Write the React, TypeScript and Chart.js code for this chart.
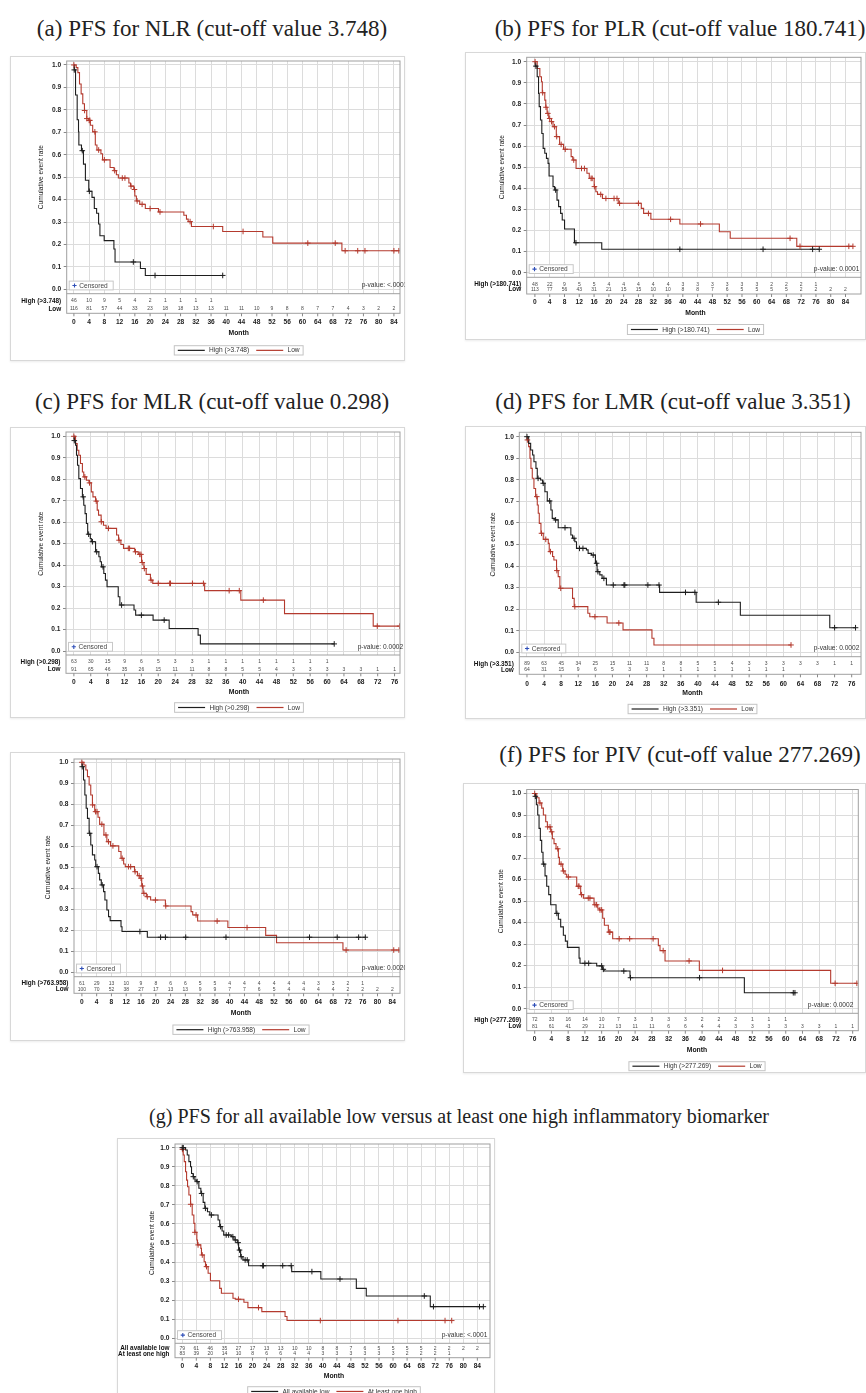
import { useEffect, useRef } from "react";
import { Chart, registerables } from "chart.js";

Chart.register(...registerables);

type Step = [number, number];

// ---------- tick labels ----------
const months84 = [0, 4, 8, 12, 16, 20, 24, 28, 32, 36, 40, 44, 48, 52, 56, 60, 64, 68, 72, 76, 80, 84];
const months76 = [0, 4, 8, 12, 16, 20, 24, 28, 32, 36, 40, 44, 48, 52, 56, 60, 64, 68, 72, 76];
const rateTicks = [0, 0.1, 0.2, 0.3, 0.4, 0.5, 0.6, 0.7, 0.8, 0.9, 1.0];

// ---------- (a) NLR ----------
const nlrHigh: Step[] = [[0,1],[0.1,0.978],[0.43,0.866],[0.86,0.756],[1.21,0.702],[1.3,0.643],[1.99,0.618],[2.51,0.558],[3.02,0.486],[3.9,0.437],[4.75,0.41],[5.36,0.36],[5.96,0.339],[6.48,0.291],[6.83,0.239],[7.95,0.217],[10.5,0.18],[10.8,0.122],[17.46,0.093],[18.75,0.062],[39.06,0.062]];
const nlrHighCens = [0.1, 2.2, 4.06, 15.6, 21.3, 39.06];
const nlrLow: Step[] = [[0,1],[0.6,0.988],[1.04,0.966],[1.47,0.915],[1.9,0.871],[2.33,0.827],[2.77,0.797],[3.37,0.761],[3.89,0.753],[4.32,0.731],[4.93,0.702],[5.62,0.643],[6.05,0.621],[7.09,0.604],[7.52,0.577],[9.5,0.543],[10.54,0.529],[11.15,0.511],[11.67,0.496],[14.43,0.474],[14.86,0.46],[15.73,0.445],[15.99,0.416],[16.4,0.394],[17.28,0.379],[18.75,0.36],[22.2,0.345],[28.86,0.33],[29.55,0.313],[30.0,0.302],[30.85,0.28],[39.06,0.258],[49.6,0.233],[52.2,0.206],[70.35,0.172],[85.3,0.172]];
const nlrLowCens = [0, 2.8, 3.4, 4.0, 4.2, 5.5, 6.5, 8.0, 10.7, 12.7, 13.4, 15.0, 15.9, 16.6, 17.9, 20.0, 22.6, 30.5, 36.6, 44.4, 61.4, 68.6, 71.2, 74.5, 76.4, 84.0, 85.3];
const nlrHighRisk = [46, 10, 9, 5, 4, 2, 1, 1, 1, 1];
const nlrLowRisk = [116, 81, 57, 44, 33, 23, 18, 18, 13, 13, 11, 11, 10, 9, 8, 8, 7, 7, 4, 3, 2, 2];

// ---------- (b) PLR ----------
const plrHigh: Step[] = [[0,1],[0.09,0.979],[0.62,0.929],[0.98,0.85],[1.16,0.787],[1.51,0.724],[1.87,0.66],[2.23,0.589],[2.67,0.566],[3.12,0.542],[3.56,0.518],[3.83,0.458],[4.9,0.408],[5.34,0.392],[5.97,0.344],[6.41,0.313],[6.95,0.281],[7.39,0.25],[8.02,0.207],[10.69,0.142],[18.08,0.111],[76.9,0.111]];
const plrHighCens = [0.27, 5.6, 11.1, 39.2, 61.7, 75.1, 76.9];
const plrLow: Step[] = [[0,1],[0.62,0.968],[1.34,0.929],[1.78,0.905],[2.0,0.853],[2.67,0.818],[2.94,0.784],[3.3,0.755],[3.74,0.731],[4.45,0.716],[4.9,0.692],[5.79,0.645],[6.68,0.608],[7.75,0.585],[9.8,0.55],[10.24,0.534],[11.13,0.494],[14.07,0.471],[14.7,0.447],[16.03,0.408],[16.48,0.384],[16.93,0.371],[18.26,0.352],[22.54,0.329],[28.77,0.305],[29.4,0.281],[31.36,0.253],[39.2,0.231],[49.88,0.194],[52.82,0.163],[70.82,0.125],[86.0,0.125]];
const plrLowCens = [0.05, 2.1, 3.0, 3.5, 4.0, 4.5, 5.3, 5.9, 7.1, 8.2, 10.5, 12.6, 13.4, 15.2, 15.5, 16.1, 17.8, 19.2, 21.4, 22.2, 22.9, 28.0, 30.7, 36.7, 44.8, 69.0, 71.7, 84.9, 86.0];
const plrHighRisk = [48, 22, 9, 5, 5, 4, 4, 4, 4, 4, 3, 3, 3, 3, 3, 3, 2, 2, 2, 1];
const plrLowRisk = [113, 77, 56, 43, 31, 21, 15, 15, 10, 10, 8, 8, 7, 6, 5, 5, 5, 5, 2, 2, 2, 2];

// ---------- (c) MLR ----------
const mlrHigh: Step[] = [[0,1],[0.08,0.98],[0.39,0.958],[0.62,0.912],[0.86,0.865],[1.17,0.803],[1.56,0.757],[2.02,0.718],[2.34,0.679],[2.65,0.64],[2.96,0.594],[3.27,0.544],[3.89,0.524],[4.13,0.509],[5.14,0.462],[5.92,0.439],[6.23,0.416],[6.54,0.392],[7.09,0.361],[7.48,0.33],[7.86,0.299],[10.51,0.253],[10.9,0.214],[14.25,0.191],[14.64,0.167],[18.77,0.144],[22.58,0.105],[29.44,0.074],[29.98,0.033],[61.7,0.033]];
const mlrHighCens = [0.1, 2.2, 3.5, 4.4, 5.4, 6.9, 11.3, 16.0, 21.4, 61.7];
const mlrLow: Step[] = [[0,1],[0.39,0.966],[0.78,0.935],[1.17,0.912],[1.56,0.873],[2.02,0.834],[2.34,0.811],[2.96,0.795],[3.58,0.783],[4.13,0.741],[4.52,0.718],[5.14,0.698],[5.53,0.656],[5.84,0.633],[6.46,0.602],[7.01,0.586],[7.63,0.571],[10.12,0.54],[10.59,0.516],[11.14,0.496],[11.76,0.478],[14.41,0.462],[15.26,0.45],[16.04,0.412],[16.59,0.384],[17.13,0.357],[18.14,0.33],[18.69,0.315],[30.99,0.281],[39.56,0.237],[49.92,0.174],[70.94,0.116],[77.2,0.116]];
const mlrLowCens = [0, 2.6, 3.7, 5.3, 6.5, 8.2, 10.7, 12.9, 13.2, 14.6, 15.6, 15.9, 16.2, 16.7, 18.3, 20.0, 22.7, 22.9, 28.1, 30.7, 36.8, 39.2, 44.9, 71.9, 77.2];
const mlrHighRisk = [63, 30, 15, 9, 6, 5, 3, 3, 1, 1, 1, 1, 1, 1, 1, 1];
const mlrLowRisk = [91, 65, 46, 35, 26, 15, 11, 11, 8, 8, 5, 5, 4, 3, 3, 3, 3, 3, 1, 1];

// ---------- (d) LMR ----------
const lmrHigh: Step[] = [[0,1],[0.39,0.969],[0.86,0.938],[1.32,0.915],[1.63,0.884],[2.1,0.853],[2.41,0.807],[3.19,0.799],[3.66,0.784],[4.2,0.745],[4.75,0.702],[5.6,0.66],[5.91,0.621],[6.53,0.614],[7.31,0.578],[10.27,0.544],[10.66,0.529],[11.2,0.513],[11.59,0.482],[13.92,0.475],[14.31,0.459],[15.09,0.451],[16.02,0.413],[16.41,0.374],[17.04,0.359],[17.58,0.343],[18.59,0.312],[31.04,0.278],[39.6,0.232],[49.94,0.172],[70.87,0.114],[76.9,0.114]];
const lmrHighCens = [0, 2.6, 3.8, 5.3, 6.7, 8.9, 11.0, 12.3, 13.1, 15.5, 16.3, 16.6, 18.0, 20.2, 22.7, 22.9, 28.3, 30.9, 37.1, 39.3, 44.8, 72.0, 76.9];
const lmrLow: Step[] = [[0,1],[0.05,0.985],[0.39,0.954],[0.7,0.9],[0.93,0.853],[1.24,0.807],[1.63,0.76],[2.02,0.722],[2.41,0.683],[2.64,0.645],[2.88,0.598],[3.27,0.552],[3.81,0.524],[4.98,0.505],[5.21,0.467],[5.99,0.444],[6.3,0.428],[6.92,0.379],[7.31,0.351],[7.7,0.297],[10.66,0.25],[11.05,0.212],[14.24,0.181],[14.7,0.165],[18.75,0.136],[22.48,0.104],[29.25,0.065],[29.72,0.034],[61.8,0.034]];
const lmrLowCens = [0.1, 2.3, 3.4, 4.4, 5.5, 7.0, 7.9, 11.2, 15.9, 21.5, 61.8];
const lmrHighRisk = [89, 63, 45, 34, 25, 15, 11, 11, 8, 8, 5, 5, 4, 3, 3, 3, 3, 3, 1, 1];
const lmrLowRisk = [64, 31, 15, 9, 6, 5, 3, 3, 1, 1, 1, 1, 1, 1, 1, 1];

// ---------- (e) cut-off 763.958 ----------
const siiHigh: Step[] = [[0,1],[0.05,0.979],[0.44,0.916],[0.8,0.844],[1.16,0.781],[1.51,0.733],[1.96,0.662],[2.4,0.606],[2.85,0.559],[3.47,0.535],[3.74,0.503],[4.45,0.471],[4.8,0.44],[5.25,0.416],[5.87,0.384],[6.23,0.344],[6.76,0.297],[7.21,0.265],[7.65,0.246],[10.59,0.217],[10.86,0.194],[17.71,0.167],[76.7,0.167]];
const siiHighCens = [0.1, 2.1, 4.1, 5.5, 15.7, 21.3, 22.6, 28.1, 39.0, 61.6, 69.1, 74.9, 76.7];
const siiLow: Step[] = [[0,1],[0.53,0.987],[1.07,0.963],[1.51,0.932],[1.96,0.892],[2.4,0.844],[2.85,0.797],[3.47,0.765],[4.36,0.738],[4.8,0.705],[5.96,0.654],[6.76,0.622],[7.74,0.602],[9.97,0.575],[10.59,0.543],[11.3,0.516],[11.74,0.503],[14.24,0.479],[15.04,0.46],[15.75,0.448],[16.19,0.411],[16.55,0.376],[17.44,0.36],[18.6,0.344],[22.6,0.316],[29.54,0.289],[29.99,0.273],[31.32,0.244],[39.51,0.213],[49.74,0.176],[52.68,0.141],[70.65,0.106],[85.8,0.106]];
const siiLowCens = [0, 2.9, 3.7, 4.1, 5.4, 6.5, 7.2, 8.4, 10.9, 12.6, 13.2, 14.4, 15.5, 16.0, 16.4, 16.8, 17.7, 19.9, 22.7, 30.9, 36.6, 44.7, 71.5, 84.4, 85.8];
const siiHighRisk = [61, 29, 13, 10, 9, 8, 6, 6, 5, 5, 4, 4, 4, 4, 4, 4, 3, 3, 2, 1];
const siiLowRisk = [100, 70, 52, 38, 27, 17, 13, 13, 9, 9, 7, 7, 6, 5, 4, 4, 4, 4, 2, 2, 2, 2];

// ---------- (f) PIV ----------
const pivHigh: Step[] = [[0,1],[0.08,0.987],[0.4,0.948],[0.72,0.9],[1.04,0.838],[1.35,0.782],[1.67,0.727],[1.99,0.672],[2.47,0.617],[2.87,0.569],[3.35,0.53],[3.82,0.483],[5.1,0.443],[5.66,0.416],[6.21,0.38],[6.85,0.341],[7.33,0.314],[7.81,0.285],[10.6,0.235],[10.83,0.211],[14.82,0.199],[16.17,0.183],[16.57,0.175],[22.78,0.144],[50.11,0.074],[62.2,0.074]];
const pivHighCens = [0.16, 2.15, 5.3, 12.0, 12.9, 16.0, 16.4, 21.3, 22.9, 39.4, 61.8, 62.2];
const pivLow: Step[] = [[0,1],[0.48,0.98],[1.04,0.956],[1.67,0.932],[2.07,0.9],[2.63,0.869],[3.03,0.845],[3.82,0.822],[4.22,0.79],[4.62,0.767],[5.1,0.743],[5.66,0.703],[5.9,0.672],[6.69,0.64],[7.25,0.625],[7.65,0.612],[10.04,0.569],[10.99,0.53],[11.63,0.514],[14.18,0.483],[15.06,0.467],[15.45,0.459],[16.25,0.42],[16.65,0.388],[17.6,0.356],[18.64,0.325],[29.55,0.293],[29.95,0.27],[31.15,0.222],[39.35,0.178],[70.74,0.118],[77.0,0.118]];
const pivLowCens = [0, 1.27, 3.1, 3.66, 4.06, 5.5, 6.3, 6.85, 8.05, 10.4, 10.6, 11.2, 12.8, 13.2, 14.4, 14.8, 15.6, 16.0, 17.8, 18.0, 20.2, 22.7, 28.3, 30.7, 36.9, 44.9, 71.8, 77.0];
const pivHighRisk = [72, 33, 16, 14, 10, 7, 3, 3, 3, 3, 2, 2, 2, 1, 1, 1];
const pivLowRisk = [81, 61, 41, 29, 21, 13, 11, 11, 6, 6, 4, 4, 3, 3, 3, 3, 3, 3, 1, 1];

// ---------- (g) all low vs at least one high ----------
const allLow: Step[] = [[0,1],[0.94,0.988],[1.42,0.962],[1.89,0.927],[2.36,0.9],[2.64,0.865],[3.11,0.848],[3.59,0.83],[4.06,0.822],[4.72,0.787],[5.29,0.76],[5.95,0.713],[6.42,0.682],[7.17,0.664],[7.83,0.647],[10.19,0.621],[10.66,0.586],[11.33,0.563],[11.8,0.542],[13.97,0.533],[14.72,0.516],[15.67,0.502],[16.04,0.463],[16.61,0.428],[17.27,0.411],[18.88,0.381],[31.15,0.35],[39.45,0.311],[49.55,0.262],[52.38,0.222],[70.6,0.166],[85.7,0.166]];
const allLowCens = [0, 0.3, 3.15, 4.25, 5.5, 6.6, 8.3, 10.9, 12.5, 13.2, 14.4, 15.1, 15.9, 16.3, 16.8, 17.9, 18.5, 22.9, 23.1, 28.6, 31.0, 36.9, 44.9, 68.9, 71.5, 84.6, 85.7];
const oneHigh: Step[] = [[0,1],[0.02,0.991],[0.28,0.962],[0.57,0.927],[0.94,0.874],[1.23,0.83],[1.51,0.795],[1.89,0.752],[2.36,0.703],[2.83,0.647],[3.3,0.603],[3.59,0.556],[4.15,0.516],[4.34,0.49],[5.29,0.472],[5.47,0.437],[6.23,0.402],[6.61,0.376],[7.36,0.341],[8.02,0.302],[10.66,0.262],[11.14,0.236],[14.44,0.21],[15.1,0.205],[17.55,0.189],[18.69,0.161],[22.65,0.14],[29.26,0.114],[29.82,0.093],[76.7,0.093]];
const oneHighCens = [0.05, 2.4, 3.6, 4.5, 5.7, 6.9, 16.0, 21.7, 39.3, 61.4, 74.8, 76.7];
const allLowRisk = [79, 61, 46, 35, 27, 17, 13, 13, 10, 10, 8, 8, 7, 6, 5, 5, 5, 5, 2, 2, 2, 2];
const oneHighRisk = [83, 39, 20, 14, 10, 8, 6, 6, 4, 4, 3, 3, 3, 3, 3, 3, 2, 2, 2, 1];

// ---------- styles ----------
const FAM = "'Liberation Sans', Arial, Helvetica, sans-serif";
const SERIF = "'Liberation Serif', 'Times New Roman', serif";
const BLACK = "#1e1e1e";
const RED = "#b43a2e";
const GRID = "#dcdcdc";
const FRAME = "#a0a0a0";

interface Curve { steps: Step[]; censor: number[]; color: string; }
interface PanelSpec {
  box: [number, number, number, number];
  plot: [number, number, number, number];
  y1px: number; y0px: number; x0px: number; ppm: number;
  xTicks: number[];
  rowLabels: string[]; risks: number[][]; rowY: number[];
  tableBottom: number; labelY: number; monthY: number;
  legendCx: number; legendTop: number; legendH: number; legendLabels: string[];
  yTitleX: number;
  pText: string; pX: number; pAlign: "left" | "right";
  curves: Curve[];
}

const panels: PanelSpec[] = [
  {
    box: [10, 56, 405, 361], plot: [66.7, 58.3, 404.5, 293.7], y1px: 62.3, y0px: 289.3, x0px: 74, ppm: 3.861,
    xTicks: months84, rowLabels: ["High (>3.748)", "Low"], risks: [nlrHighRisk, nlrLowRisk], rowY: [301, 309],
    tableBottom: 313.3, labelY: 322.3, monthY: 333.3, legendCx: 238.7, legendTop: 345.7, legendH: 9.3,
    legendLabels: ["High (>3.748)", "Low"], yTitleX: 40.7, pText: "p-value: <.0001", pX: 361.7, pAlign: "left",
    curves: [{ steps: nlrHigh, censor: nlrHighCens, color: BLACK }, { steps: nlrLow, censor: nlrLowCens, color: RED }],
  },
  {
    box: [465, 52, 866, 340], plot: [526.7, 57.3, 865, 277.3], y1px: 61.7, y0px: 272.7, x0px: 535, ppm: 3.742,
    xTicks: months84, rowLabels: ["High (>180.741)", "Low"], risks: [plrHighRisk, plrLowRisk], rowY: [284.3, 289.6],
    tableBottom: 294, labelY: 302.3, monthY: 313.3, legendCx: 695.5, legendTop: 324.5, legendH: 10,
    legendLabels: ["High (>180.741)", "Low"], yTitleX: 501.7, pText: "p-value: 0.0001", pX: 859.3, pAlign: "right",
    curves: [{ steps: plrHigh, censor: plrHighCens, color: BLACK }, { steps: plrLow, censor: plrLowCens, color: RED }],
  },
  {
    box: [10, 427, 405, 718], plot: [66, 431.7, 404.8, 655], y1px: 436, y0px: 651, x0px: 74, ppm: 4.28,
    xTicks: months76, rowLabels: ["High (>0.298)", "Low"], risks: [mlrHighRisk, mlrLowRisk], rowY: [662, 669.3],
    tableBottom: 673.3, labelY: 682.3, monthY: 692.3, legendCx: 239, legendTop: 702.7, legendH: 9.6,
    legendLabels: ["High (>0.298)", "Low"], yTitleX: 40.7, pText: "p-value: 0.0002", pX: 357.7, pAlign: "left",
    curves: [{ steps: mlrHigh, censor: mlrHighCens, color: BLACK }, { steps: mlrLow, censor: mlrLowCens, color: RED }],
  },
  {
    box: [465, 426, 866, 719], plot: [519.3, 432.3, 862, 656.7], y1px: 436.7, y0px: 652.3, x0px: 527, ppm: 4.285,
    xTicks: months76, rowLabels: ["High (>3.351)", "Low"], risks: [lmrHighRisk, lmrLowRisk], rowY: [664, 670],
    tableBottom: 674.3, labelY: 684, monthY: 692.7, legendCx: 692.5, legendTop: 704.3, legendH: 9.4,
    legendLabels: ["High (>3.351)", "Low"], yTitleX: 493.3, pText: "p-value: 0.0002", pX: 859.3, pAlign: "right",
    curves: [{ steps: lmrHigh, censor: lmrHighCens, color: BLACK }, { steps: lmrLow, censor: lmrLowCens, color: RED }],
  },
  {
    box: [10, 752, 405, 1041], plot: [74, 759, 404.5, 976.7], y1px: 762.3, y0px: 972.3, x0px: 82, ppm: 3.746,
    xTicks: months84, rowLabels: ["High (>763.958)", "Low"], risks: [siiHighRisk, siiLowRisk], rowY: [983.3, 989.7],
    tableBottom: 993.3, labelY: 1002, monthY: 1013.3, legendCx: 241, legendTop: 1025, legendH: 9.4,
    legendLabels: ["High (>763.958)", "Low"], yTitleX: 48.3, pText: "p-value: 0.0020", pX: 361.7, pAlign: "left",
    curves: [{ steps: siiHigh, censor: siiHighCens, color: BLACK }, { steps: siiLow, censor: siiLowCens, color: RED }],
  },
  {
    box: [463, 783, 866, 1073], plot: [526.7, 789.5, 858.3, 1013.3], y1px: 793.5, y0px: 1008.7, x0px: 534.7, ppm: 4.184,
    xTicks: months76, rowLabels: ["High (>277.269)", "Low"], risks: [pivHighRisk, pivLowRisk], rowY: [1020, 1026.7],
    tableBottom: 1030.7, labelY: 1039.3, monthY: 1050, legendCx: 697, legendTop: 1061.7, legendH: 9,
    legendLabels: ["High (>277.269)", "Low"], yTitleX: 500.7, pText: "p-value: 0.0002", pX: 853.3, pAlign: "right",
    curves: [{ steps: pivHigh, censor: pivHighCens, color: BLACK }, { steps: pivLow, censor: pivLowCens, color: RED }],
  },
  {
    box: [117, 1138, 495, 1400], plot: [175, 1144, 491.7, 1343.3], y1px: 1147.7, y0px: 1338.3, x0px: 182.3, ppm: 3.532,
    xTicks: months84, rowLabels: ["All available low", "At least one high"], risks: [allLowRisk, oneHighRisk], rowY: [1348.3, 1354],
    tableBottom: 1357.7, labelY: 1365.7, monthY: 1376.3, legendCx: 334, legendTop: 1386.7, legendH: 9.5,
    legendLabels: ["All available low", "At least one high"], yTitleX: 151.7, pText: "p-value: <.0001", pX: 487.3, pAlign: "right",
    curves: [{ steps: allLow, censor: allLowCens, color: BLACK }, { steps: oneHigh, censor: oneHighCens, color: RED }],
  },
];

const titles = [
  { text: "(a) PFS for NLR (cut-off value 3.748)", cx: 212, cy: 29, size: 23 },
  { text: "(b) PFS for PLR (cut-off value 180.741)", cx: 680, cy: 29, size: 23 },
  { text: "(c) PFS for MLR (cut-off value 0.298)", cx: 212, cy: 402, size: 23 },
  { text: "(d) PFS for LMR (cut-off value 3.351)", cx: 673, cy: 402, size: 23 },
  { text: "(f) PFS for PIV (cut-off value 277.269)", cx: 680, cy: 755, size: 23 },
  { text: "(g) PFS for all available low versus at least one high inflammatory biomarker", cx: 459, cy: 1116, size: 20 },
];

function survAt(steps: Step[], t: number): number {
  let v = steps[0][1];
  for (const [x, y] of steps) {
    if (x <= t + 1e-9) v = y;
    else break;
  }
  return v;
}

function KMPanel({ spec }: { spec: PanelSpec }) {
  const ref = useRef<HTMLCanvasElement>(null);
  const L = Math.round(spec.box[0]);
  const T = Math.round(spec.box[1]);
  const W = Math.round(spec.box[2]) - L;
  const H = Math.round(spec.box[3]) - T;

  useEffect(() => {
    if (!ref.current) return;
    const [pl, pt, pr, pb] = spec.plot;
    const unit = spec.y0px - spec.y1px;
    const yMax = 1 + (spec.y1px - pt) / unit;
    const yMin = -(pb - spec.y0px) / unit;
    const xMin = (pl - spec.x0px) / spec.ppm;
    const xMax = (pr - spec.x0px) / spec.ppm;
    const tickFont = 6.6;

    const datasets: any[] = [];
    spec.curves.forEach((c) => {
      datasets.push({
        data: c.steps.map(([x, y]) => ({ x, y })),
        borderColor: c.color,
        borderWidth: 1.1,
        pointRadius: 0,
        stepped: true,
        fill: false,
        order: 2,
      });
      datasets.push({
        data: c.censor.map((t) => ({ x: t, y: survAt(c.steps, t) })),
        showLine: false,
        borderColor: c.color,
        backgroundColor: c.color,
        pointStyle: "cross",
        pointRadius: 2.8,
        borderWidth: 1,
        order: 1,
      });
    });

    const zeroPad = (s: any) => {
      s.paddingLeft = 0; s.paddingRight = 0; s.paddingTop = 0; s.paddingBottom = 0;
    };

    const decor = {
      id: "kmDecor",
      afterDraw(chart: any) {
        const ctx = chart.ctx as CanvasRenderingContext2D;
        const ca = chart.chartArea;
        const xs = chart.scales.x;
        const ys = chart.scales.y;
        const tb = spec.tableBottom - T;
        ctx.save();
        ctx.strokeStyle = FRAME;
        ctx.lineWidth = 1;
        ctx.strokeRect(ca.left, ca.top, ca.right - ca.left, tb - ca.top);
        ctx.beginPath();
        ctx.moveTo(ca.left, ca.bottom);
        ctx.lineTo(ca.right, ca.bottom);
        ctx.stroke();
        ctx.strokeStyle = "#888";
        ctx.beginPath();
        spec.xTicks.forEach((v) => {
          const x = xs.getPixelForValue(v);
          ctx.moveTo(x, tb);
          ctx.lineTo(x, tb + 3);
        });
        ctx.stroke();
        ctx.font = `5px ${FAM}`;
        ctx.fillStyle = "#4a4a4a";
        ctx.textAlign = "center";
        ctx.textBaseline = "middle";
        spec.risks.forEach((row, r) => {
          row.forEach((n, i) => {
            ctx.fillText(String(n), xs.getPixelForValue(spec.xTicks[i]), spec.rowY[r] - T);
          });
        });
        ctx.font = `bold 6.4px ${FAM}`;
        ctx.fillStyle = "#111";
        ctx.textAlign = "right";
        spec.rowLabels.forEach((lab, r) => ctx.fillText(lab, ca.left - 5.5, spec.rowY[r] - T));
        const bx = ca.left + 2.5, by = ca.bottom - 12.6, bw = 44, bh = 8.8;
        ctx.fillStyle = "#fff";
        ctx.fillRect(bx, by, bw, bh);
        ctx.strokeStyle = "#c8c8c8";
        ctx.strokeRect(bx, by, bw, bh);
        ctx.strokeStyle = "#2f4fb8";
        ctx.lineWidth = 1.1;
        ctx.beginPath();
        ctx.moveTo(bx + 3.2, by + bh / 2); ctx.lineTo(bx + 7.4, by + bh / 2);
        ctx.moveTo(bx + 5.3, by + bh / 2 - 2.1); ctx.lineTo(bx + 5.3, by + bh / 2 + 2.1);
        ctx.stroke();
        ctx.lineWidth = 1;
        ctx.font = `6.6px ${FAM}`;
        ctx.fillStyle = "#444";
        ctx.textAlign = "left";
        ctx.fillText("Censored", bx + 10, by + bh / 2 + 0.3);
        ctx.textAlign = spec.pAlign;
        ctx.fillStyle = "#333";
        ctx.fillText(spec.pText, spec.pX - L, ca.bottom - 8.2);
        ctx.save();
        ctx.translate(spec.yTitleX - L, (ys.getPixelForValue(1) + ys.getPixelForValue(0)) / 2);
        ctx.rotate(-Math.PI / 2);
        ctx.textAlign = "center";
        ctx.fillStyle = "#222";
        ctx.font = `6.6px ${FAM}`;
        ctx.fillText("Cumulative event rate", 0, 0);
        ctx.restore();
        ctx.font = `bold 6.8px ${FAM}`;
        ctx.fillStyle = "#111";
        ctx.textAlign = "center";
        ctx.fillText("Month", spec.legendCx - L, spec.monthY - T);
        ctx.font = `6.6px ${FAM}`;
        const w1 = ctx.measureText(spec.legendLabels[0]).width;
        const w2 = ctx.measureText(spec.legendLabels[1]).width;
        const pad = 3.5, line = 27, gap = 4.3, gap2 = 7;
        const total = pad + line + gap + w1 + gap2 + line + gap + w2 + pad;
        let lx = spec.legendCx - L - total / 2;
        const ly = spec.legendTop - T;
        ctx.fillStyle = "#fff";
        ctx.fillRect(lx, ly, total, spec.legendH);
        ctx.strokeStyle = "#c4c4c4";
        ctx.strokeRect(lx, ly, total, spec.legendH);
        const my = ly + spec.legendH / 2;
        const drawItem = (color: string, label: string, w: number) => {
          ctx.strokeStyle = color;
          ctx.lineWidth = 1.2;
          ctx.beginPath();
          ctx.moveTo(lx, my);
          ctx.lineTo(lx + line, my);
          ctx.stroke();
          ctx.fillStyle = "#333";
          ctx.textAlign = "left";
          ctx.fillText(label, lx + line + gap, my + 0.3);
          lx += line + gap + w;
        };
        lx += pad;
        drawItem(spec.curves[0].color, spec.legendLabels[0], w1);
        lx += gap2;
        drawItem(spec.curves[1].color, spec.legendLabels[1], w2);
        ctx.restore();
      },
    };

    const chart = new Chart(ref.current, {
      type: "line",
      data: { datasets },
      options: {
        animation: false,
        responsive: false,
        devicePixelRatio: 1,
        events: [],
        layout: { padding: { left: 0, top: pt - T, right: L + W - pr, bottom: 0 } },
        plugins: { legend: { display: false }, tooltip: { enabled: false }, title: { display: false } },
        scales: {
          x: {
            type: "linear",
            min: xMin,
            max: xMax,
            afterBuildTicks: (s: any) => { s.ticks = spec.xTicks.map((v) => ({ value: v })); },
            afterFit: (s: any) => { s.height = T + H - pb; zeroPad(s); },
            ticks: {
              autoSkip: false,
              maxRotation: 0,
              padding: spec.labelY - pb - (tickFont * 1.2) / 2,
              font: { family: FAM, size: tickFont, weight: "bold" },
              color: "#222",
              callback: (v: any) => String(v),
            },
            grid: { color: GRID, lineWidth: 1, drawTicks: false },
            border: { display: false },
          },
          y: {
            type: "linear",
            min: yMin,
            max: yMax,
            afterBuildTicks: (s: any) => { s.ticks = rateTicks.map((v) => ({ value: v })); },
            afterFit: (s: any) => { s.width = pl - L; zeroPad(s); },
            ticks: {
              padding: 2.5,
              font: { family: FAM, size: tickFont, weight: "bold" },
              color: "#222",
              callback: (v: any) => Number(v).toFixed(1),
            },
            grid: { color: GRID, lineWidth: 1, drawTicks: true, tickLength: 3, tickColor: "#888" },
            border: { display: false },
          },
        },
      } as any,
      plugins: [decor],
    });
    return () => chart.destroy();
  }, []);

  return (
    <canvas
      ref={ref}
      width={W}
      height={H}
      style={{ position: "absolute", left: L, top: T, width: W, height: H }}
    />
  );
}

export default function App() {
  return (
    <div
      style={{
        position: "absolute",
        left: 0,
        top: 0,
        width: 866,
        height: 1393,
        overflow: "hidden",
        background: "#fff",
      }}
    >
      {titles.map((t, i) => (
        <div
          key={"t" + i}
          style={{
            position: "absolute",
            left: t.cx,
            top: t.cy - t.size * 0.51,
            transform: "translateX(-50%)",
            whiteSpace: "pre",
            fontFamily: SERIF,
            fontSize: t.size,
            lineHeight: 1,
            color: "#222",
          }}
        >
          {t.text}
        </div>
      ))}
      {panels.map((p, i) => (
        <div
          key={"b" + i}
          style={{
            position: "absolute",
            left: Math.round(p.box[0]),
            top: Math.round(p.box[1]),
            width: Math.round(p.box[2]) - Math.round(p.box[0]),
            height: Math.round(p.box[3]) - Math.round(p.box[1]),
            boxSizing: "border-box",
            border: "1px solid #d8d8d8",
            boxShadow: "0 1px 2px rgba(0,0,0,0.08)",
          }}
        />
      ))}
      {panels.map((p, i) => (
        <KMPanel key={"p" + i} spec={p} />
      ))}
    </div>
  );
}
